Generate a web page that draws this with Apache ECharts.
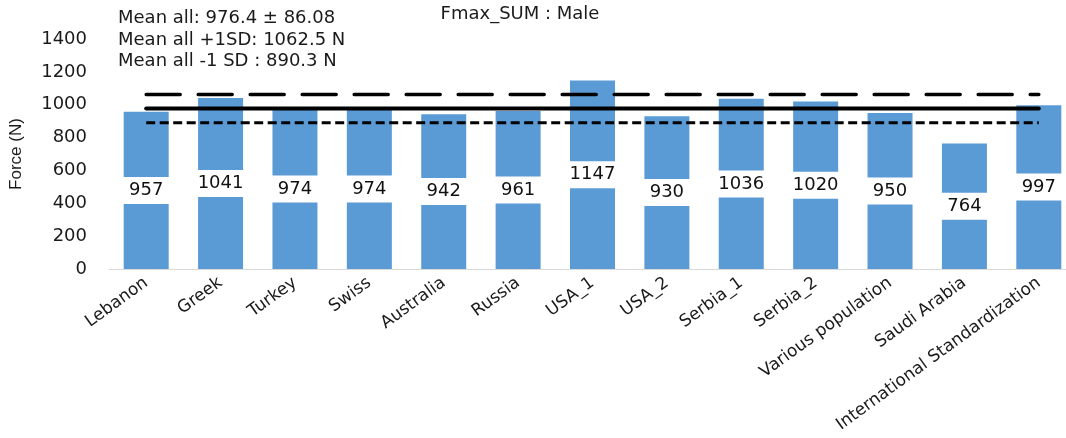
<!DOCTYPE html>
<html>
<head>
<meta charset="utf-8">
<script src="https://cdn.jsdelivr.net/npm/echarts@6/dist/echarts.min.js"></script>
<style>
html,body{margin:0;padding:0;background:#fff;}
#chart{width:1066px;height:438px;}
</style>
</head>
<body>
<div id="chart"></div>
<script>
const categories = ["Lebanon","Greek","Turkey","Swiss","Australia","Russia","USA_1","USA_2","Serbia_1","Serbia_2","Various population","Saudi Arabia","International Standardization"];
const values = [957,1041,974,974,942,961,1147,930,1036,1020,950,764,997];
const meanAll = 976.4;
const meanPlusSD = 1062.5;
const meanMinusSD = 890.3;
const legendLines = ["Mean all: 976.4 \u00b1 86.08","Mean all +1SD: 1062.5 N","Mean all -1 SD : 890.3 N"];
const chartTitle = "Fmax_SUM : Male";
const yAxisName = "Force (N)";
const yMin = 0, yMax = 1400, yStep = 200;

const FONT = "DejaVu Sans";
const chart = echarts.init(document.getElementById('chart'));
const firstCat = categories[0], lastCat = categories[categories.length - 1];

function refLine(value, lineStyle) {
  return {
    type: 'line',
    data: [[firstCat, value], [lastCat, value]],
    symbol: 'none',
    silent: true,
    z: 5,
    lineStyle: Object.assign({color: '#000'}, lineStyle)
  };
}

chart.setOption({
  animation: false,
  backgroundColor: '#ffffff',
  grid: {left: 109, top: 39, width: 967, height: 230, containLabel: false, outerBoundsMode: 'none'},
  graphic: [
    {type: 'text', x: 520, y: 14, style: {text: chartTitle, align: 'center', verticalAlign: 'middle', font: '18px "DejaVu Sans"', fill: '#1a1a1a'}},
    {type: 'text', x: 118, y: 8, style: {text: legendLines.join('\n'), font: '18px "DejaVu Sans"', lineHeight: 21.5, fill: '#1a1a1a'}}
  ],
  xAxis: {
    type: 'category',
    data: categories,
    axisLine: {lineStyle: {color: '#d9d9d9', width: 1}},
    axisTick: {show: false},
    axisLabel: {interval: 0, rotate: 36, margin: 12, fontSize: 17, fontFamily: FONT, color: '#1a1a1a', hideOverlap: false}
  },
  yAxis: {
    type: 'value',
    min: yMin, max: yMax, interval: yStep,
    name: yAxisName,
    nameLocation: 'middle',
    nameRotate: 90,
    nameGap: 84,
    nameTextStyle: {fontSize: 17, fontFamily: 'Liberation Sans', color: '#1a1a1a'},
    axisLine: {show: false},
    axisTick: {show: false},
    splitLine: {show: false},
    axisLabel: {margin: 22, fontSize: 18, fontFamily: FONT, color: '#1a1a1a', formatter: v => String(v)}
  },
  series: [{
    type: 'bar',
    data: values,
    barWidth: 45,
    itemStyle: {color: '#5b9bd5'},
    label: {
      show: true,
      position: 'inside',
      color: '#111',
      fontSize: 18,
      fontFamily: FONT,
      backgroundColor: '#ffffff',
      width: 52,
      height: 27,
      lineHeight: 27,
      align: 'center',
      verticalAlign: 'middle'
    }
  },
  refLine(meanPlusSD, {width: 3.5, type: [34, 18], cap: 'round'}),
  refLine(meanAll, {width: 4, type: 'solid', cap: 'round'}),
  refLine(meanMinusSD, {width: 3, type: [9, 4.5]})
  ]
});
</script>
</body>
</html>
